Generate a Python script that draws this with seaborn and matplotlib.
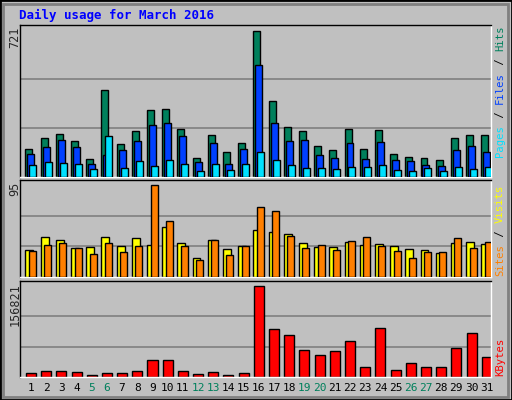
import matplotlib
matplotlib.use("Agg")
import matplotlib.pyplot as plt
import seaborn as sns
import numpy as np

days = list(range(1, 32))
hits = [139,192,212,178,90,427,163,227,329,334,237,95,207,124,168,721,374,246,227,153,134,237,139,232,114,100,95,85,192,207,207]
files = [114,148,183,148,65,109,134,178,256,266,202,75,168,65,139,550,266,178,183,109,95,168,90,173,85,80,60,55,134,153,124]
pages = [60,75,70,65,41,202,46,80,55,85,65,31,65,36,65,124,85,60,46,46,41,51,51,60,36,31,46,31,51,41,51]
sites = [28,41,38,30,31,41,32,40,33,52,35,20,38,29,32,49,46,44,35,31,31,36,33,34,32,29,28,25,35,36,34]
visits = [27,33,35,30,24,35,26,32,95,58,32,18,38,23,32,72,68,42,30,33,28,37,41,32,27,20,26,26,40,30,36]
kbytes = [7436,10868,10868,9152,4004,7436,7436,10868,29744,29744,10868,5720,9152,4004,7436,156821,82940,72644,46904,38324,45188,62348,17732,84656,12584,24596,17732,17732,50336,76076,34892]
weekends = [5, 6, 12, 13, 19, 20, 26, 27]

sns.set_style("white")
plt.rcParams['font.family'] = ['DejaVu Sans Mono', 'DejaVu Sans']

W, H = 512, 400
fig = plt.figure(figsize=(5.12, 4.0), dpi=100)
fig.patch.set_facecolor("#C0C0C0")
fig.add_artist(plt.Rectangle((0, 0), 1, 1, transform=fig.transFigure, fill=False, edgecolor="black", lw=2))
fig.add_artist(plt.Rectangle((3/W, 3/H), 1-7/W, 1-7/H, transform=fig.transFigure, fill=False, edgecolor="#808080", lw=2))

fig.text(19/W, 1-15/H, "Daily usage for March 2016", color="#0000FF", fontsize=9, fontweight="bold", va="center", ha="left")

def mkax(top, bottom):
    ax = fig.add_axes([20/W, 1-bottom/H, 471/W, (bottom-top)/H])
    ax.set_facecolor("#C0C0C0")
    for s in ax.spines.values():
        s.set_color("black"); s.set_linewidth(1)
    ax.spines['right'].set_color("white"); ax.spines['bottom'].set_color("white")
    ax.set_xlim(0.28, 31.28)
    ax.set_xticks([]); ax.set_yticks([])
    return ax

C = {"hits": "#00805C", "files": "#0040FF", "pages": "#00E0FF", "sites": "#FFFF00", "visits": "#FF8000", "kb": "#FF0000"}
x = np.array(days, dtype=float)

def grid(ax, m):
    for k in (1, 2):
        ax.axhline(m*k/3, color="#808080", lw=1.2, zorder=0)

ax1 = mkax(25, 177)
m1 = max(hits)
ax1.set_ylim(0, m1*153/147.3)
grid(ax1, m1)
w = 0.46
ax1.bar(x-0.13, hits, w, color=C["hits"], edgecolor="black", lw=1, zorder=2)
ax1.bar(x, files, w, color=C["files"], edgecolor="black", lw=1, zorder=3)
ax1.bar(x+0.13, pages, w, color=C["pages"], edgecolor="black", lw=1, zorder=4)

ax2 = mkax(180, 277)
m2 = max(visits)
ax2.set_ylim(0, m2*97/92)
grid(ax2, m2)
ax2.bar(x-0.1, sites, 0.52, color=C["sites"], edgecolor="black", lw=1, zorder=2)
ax2.bar(x+0.1, visits, 0.46, color=C["visits"], edgecolor="black", lw=1, zorder=3)

ax3 = mkax(281, 377)
m3 = max(kbytes)
ax3.set_ylim(0, m3*96/91.5)
grid(ax3, m3)
ax3.bar(x, kbytes, 0.66, color=C["kb"], edgecolor="black", lw=1, zorder=2)
ax3.set_xticks(days)
ax3.set_xticklabels([str(d) for d in days], fontsize=8)
ax3.tick_params(axis="x", length=0, pad=4)
for d, lab in zip(days, ax3.get_xticklabels()):
    lab.set_color("#00805C" if d in weekends else "black")

for ax, txt, top in ((ax1, "721", 27), (ax2, "95", 182), (ax3, "156821", 283)):
    fig.text(15/W, 1-top/H, txt, rotation=90, fontsize=8.5, ha="center", va="top")

CH = 6.6  # px per character at fontsize 8 monospace
def legend(parts, bottom):
    y = bottom
    for txt, col in parts:
        fig.text(500/W, 1-y/H, txt, rotation=90, fontsize=7.6, color=col, ha="center", va="bottom")
        y -= CH*len(txt)
legend([("Pages", C["pages"]), (" / ", "black"), ("Files", C["files"]), (" / ", "black"), ("Hits", C["hits"])], 157)
legend([("Sites", C["visits"]), (" / ", "black"), ("Visits", C["sites"])], 276)
legend([("KBytes", C["kb"])], 376)

fig.savefig("out.png", dpi=100, facecolor=fig.get_facecolor())
